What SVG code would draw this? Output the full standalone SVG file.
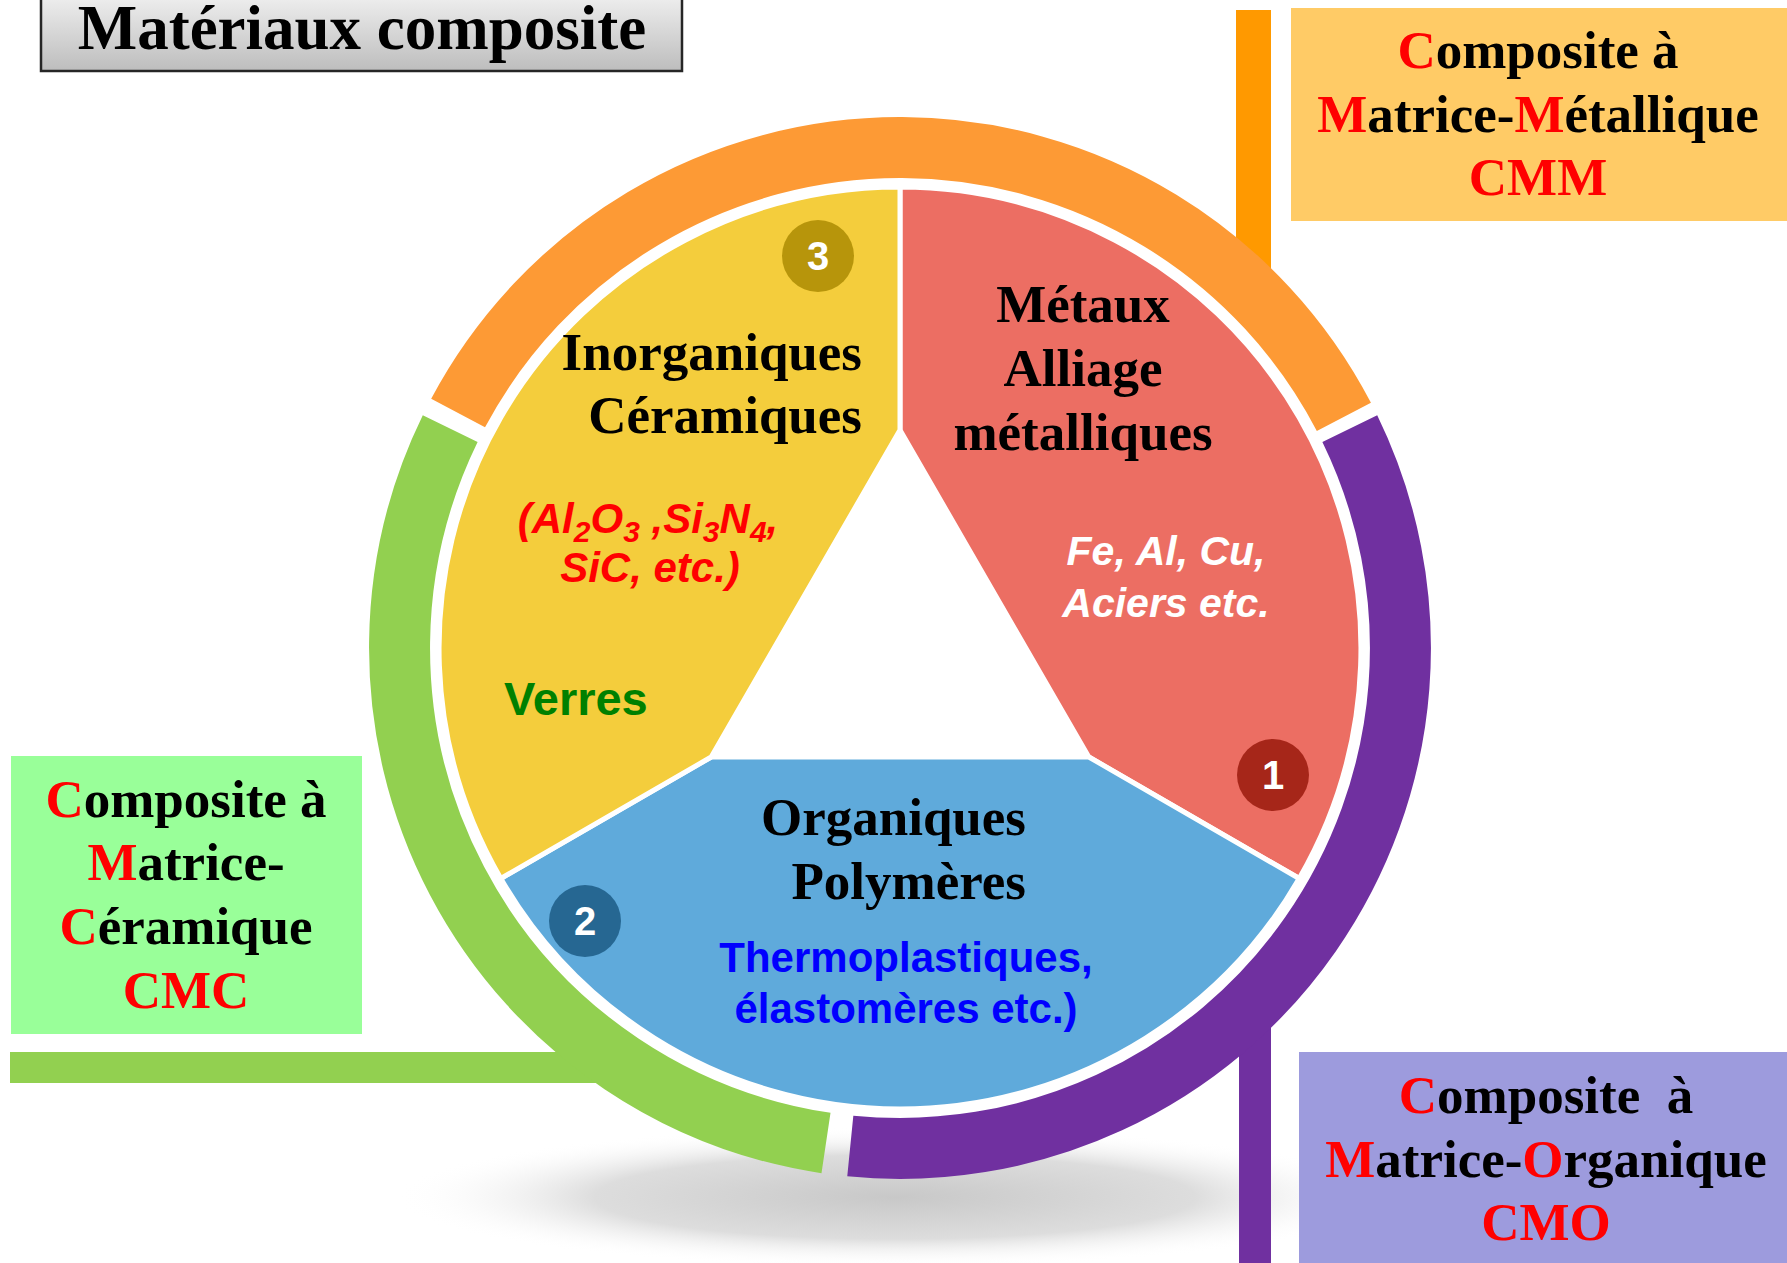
<svg xmlns="http://www.w3.org/2000/svg" width="1787" height="1263" viewBox="0 0 1787 1263">
<style>
.serif{font-family:"Liberation Serif","Times New Roman",serif;font-weight:bold;}
.sans{font-family:"Liberation Sans",Arial,sans-serif;font-weight:bold;}
.r{fill:#FF0000;}
.k{fill:#000000;}
.box{font-size:53px;text-anchor:middle;}
.seg{stroke:#FFFFFF;stroke-width:5;stroke-linejoin:miter;}
.ring{fill:none;stroke-width:61;stroke-linecap:butt;}
.num{font-size:40px;fill:#FFFFFF;text-anchor:middle;}
</style>
<defs>
<linearGradient id="titleGrad" x1="0" y1="0" x2="0" y2="1">
<stop offset="0" stop-color="#EFEFEF"/>
<stop offset="1" stop-color="#BDBDBD"/>
</linearGradient>
<radialGradient id="shadowGrad" cx="0.5" cy="0.5" r="0.5">
<stop offset="0" stop-color="#C8C8C8"/>
<stop offset="0.6" stop-color="#DDDDDD"/>
<stop offset="1" stop-color="#FFFFFF" stop-opacity="0"/>
</radialGradient>
</defs>
<rect x="0" y="0" width="1787" height="1263" fill="#FFFFFF"/>

<ellipse id="shadow" cx="895" cy="1197" rx="500" ry="70" fill="url(#shadowGrad)"/>

<g id="connectors">
<rect x="1236" y="10" width="35" height="285" fill="#FF9900"/>
<rect x="10" y="1052" width="610" height="31" fill="#92D050"/>
<rect x="1239" y="1000" width="32" height="263" fill="#7030A0"/>
</g>

<g id="ring">
<path class="ring" stroke="#FD9A35" d="M 458.1 413.0 A 500.5 500.5 0 0 1 1343.9 416.9"/>
<path class="ring" stroke="#7030A0" d="M 1349.8 428.6 A 500.5 500.5 0 0 1 850.3 1146.0"/>
<path class="ring" stroke="#92D050" d="M 826.0 1143.0 A 500.5 500.5 0 0 1 450.2 428.6"/>
</g>

<g id="seg-metaux">
<path class="seg" fill="#EC6E63" d="M 900 430 L 900 187 A 461 461 0 0 1 1299.2 878.5 L 1088.8 757 Z"/>
<text class="serif k" font-size="53" text-anchor="middle"><tspan x="1083" y="322">Métaux</tspan><tspan x="1083" y="386">Alliage</tspan><tspan x="1083" y="450">métalliques</tspan></text>
<text class="sans" font-size="41" font-style="italic" fill="#FFFFFF" text-anchor="middle"><tspan x="1166" y="565">Fe, Al, Cu,</tspan><tspan x="1166" y="617">Aciers etc.</tspan></text>
<circle cx="1273" cy="775" r="36" fill="#A62619"/>
<text class="sans num" x="1273" y="789">1</text>
</g>

<g id="seg-organiques">
<path class="seg" fill="#5FAADB" d="M 1088.8 757 L 1299.2 878.5 A 461 461 0 0 1 500.8 878.5 L 711.2 757 Z"/>
<text class="serif k" font-size="53" text-anchor="end"><tspan x="1026" y="835">Organiques</tspan><tspan x="1026" y="899">Polymères</tspan></text>
<text class="sans" font-size="42" fill="#0000FF" text-anchor="middle"><tspan x="906" y="972">Thermoplastiques,</tspan><tspan x="906" y="1023">élastomères etc.)</tspan></text>
<circle cx="585" cy="921" r="36" fill="#266792"/>
<text class="sans num" x="585" y="935">2</text>
</g>

<g id="seg-inorganiques">
<path class="seg" fill="#F4CD3C" d="M 711.2 757 L 500.8 878.5 A 461 461 0 0 1 900 187 L 900 430 Z"/>
<text class="serif k" font-size="53" text-anchor="end"><tspan x="862" y="370">Inorganiques</tspan><tspan x="862" y="433">Céramiques</tspan></text>
<text class="sans r" font-size="42" font-style="italic" text-anchor="middle"><tspan x="648" y="533">(Al</tspan><tspan font-size="30" dy="9">2</tspan><tspan dy="-9">O</tspan><tspan font-size="30" dy="9">3</tspan><tspan dy="-9"> ,Si</tspan><tspan font-size="30" dy="9">3</tspan><tspan dy="-9">N</tspan><tspan font-size="30" dy="9">4</tspan><tspan dy="-9">,</tspan><tspan x="650" y="582">SiC, etc.)</tspan></text>
<text class="sans" font-size="47" fill="#008000" x="504" y="715">Verres</text>
<circle cx="818" cy="256" r="36" fill="#B7950B"/>
<text class="sans num" x="818" y="270">3</text>
</g>

<g id="title">
<rect x="41" y="-5" width="641" height="76" fill="url(#titleGrad)" stroke="#262626" stroke-width="2.5"/>
<text class="serif k" font-size="63" text-anchor="middle" x="362" y="49">Matériaux composite</text>
</g>

<g id="box-cmm">
<rect x="1291" y="8" width="496" height="213" fill="#FFCB66"/>
<text class="serif box k"><tspan x="1538" y="68"><tspan class="r">C</tspan>omposite à</tspan><tspan x="1538" y="132"><tspan class="r">M</tspan>atrice-<tspan class="r">M</tspan>étallique</tspan><tspan x="1538" y="195" class="r">CMM</tspan></text>
</g>

<g id="box-cmc">
<rect x="11" y="756" width="351" height="278" fill="#99FF99"/>
<text class="serif box k"><tspan x="186" y="817"><tspan class="r">C</tspan>omposite à</tspan><tspan x="186" y="880"><tspan class="r">M</tspan>atrice-</tspan><tspan x="186" y="944"><tspan class="r">C</tspan>éramique</tspan><tspan x="186" y="1008" class="r">CMC</tspan></text>
</g>

<g id="box-cmo">
<rect x="1299" y="1052" width="488" height="211" fill="#9D9BDD"/>
<text class="serif box k"><tspan x="1546" y="1113"><tspan class="r">C</tspan>omposite&#160; à</tspan><tspan x="1546" y="1177"><tspan class="r">M</tspan>atrice-<tspan class="r">O</tspan>rganique</tspan><tspan x="1546" y="1240" class="r">CMO</tspan></text>
</g>
</svg>
